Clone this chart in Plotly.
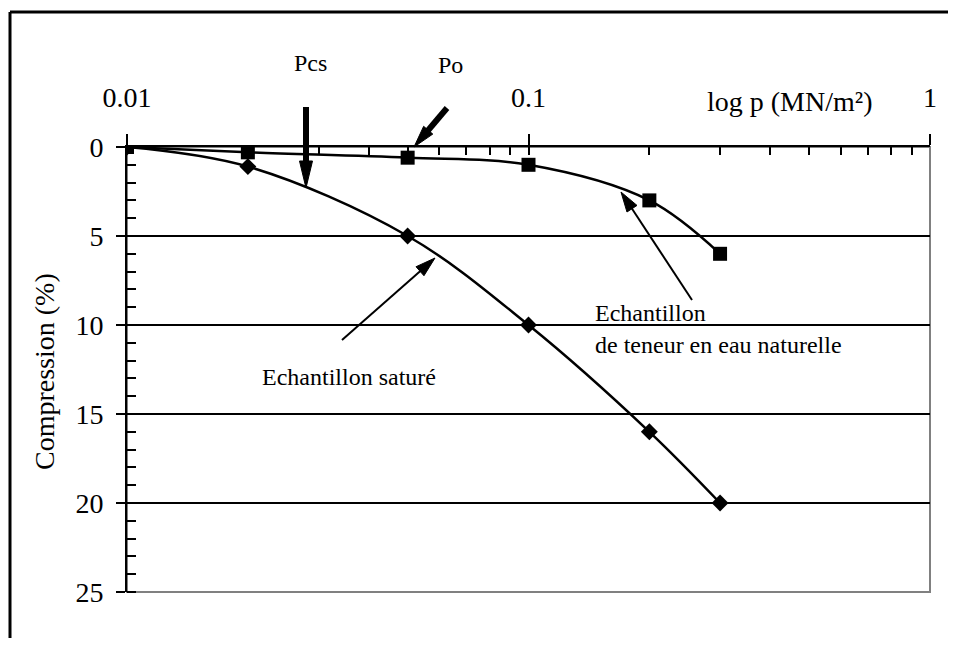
import math
import plotly.graph_objects as go

# ---------------- data ----------------
pressure = [0.01, 0.02, 0.05, 0.1, 0.2, 0.3]          # p (MN/m²)
natural = [0, 0.3, 0.6, 1.0, 3.0, 6.0]                # Echantillon de teneur en eau naturelle
saturated = [0, 1.1, 5, 10, 16, 20]                   # Echantillon saturé
x_ticks = [0.01, 0.1, 1]
x_ticktext = ["0.01", "0.1", "1"]
x_minor = [0.02, 0.03, 0.04, 0.05, 0.06, 0.07, 0.08, 0.09,
           0.2, 0.3, 0.4, 0.5, 0.6, 0.7, 0.8, 0.9]
y_ticks = [0, 5, 10, 15, 20, 25]
y_grid = [5, 10, 15, 20]

# ---------------- layout geometry (page pixels) ----------------
OFF = 8                      # default body margin of the html page
W, H = 940, 630              # keep the page smaller than the window (no scrollbars)
L, R, T, B = 127, 930, 147, 592
FONT = "Liberation Serif, Times New Roman, serif"


def px(x):
    return (x - L) / (R - L)


def py(y):
    return (B - y) / (B - T)


def arrow(x0, y0, x1, y1, w, hl, hw):
    dx, dy = x1 - x0, y1 - y0
    d = math.hypot(dx, dy)
    ux, uy = dx / d, dy / d
    bx, by = x1 - ux * hl, y1 - uy * hl
    nx, ny = -uy, ux
    shaft = dict(type="line", xref="paper", yref="paper",
                 x0=px(x0), y0=py(y0), x1=px(bx + ux * 2), y1=py(by + uy * 2),
                 line=dict(color="black", width=w))
    pts = [(x1, y1), (bx + nx * hw / 2, by + ny * hw / 2), (bx - nx * hw / 2, by - ny * hw / 2)]
    path = "M " + " L ".join(f"{px(a):.5f},{py(b):.5f}" for a, b in pts) + " Z"
    head = dict(type="path", xref="paper", yref="paper", path=path,
                fillcolor="black", line=dict(color="black", width=1))
    return [shaft, head]


fig = go.Figure()

fig.add_trace(go.Scatter(
    x=pressure, y=saturated, mode="lines+markers", name="Echantillon saturé",
    line=dict(shape="spline", smoothing=1, color="black", width=2.5),
    marker=dict(symbol="diamond", size=13, color="black"),
    showlegend=False))
fig.add_trace(go.Scatter(
    x=pressure, y=natural, mode="lines+markers", name="Echantillon de teneur en eau naturelle",
    line=dict(shape="spline", smoothing=1, color="black", width=2.5),
    marker=dict(symbol="square", size=14, color="black"),
    showlegend=False))
# helper trace so the overlay axes (inside ticks + grid) get drawn
fig.add_trace(go.Scatter(x=[x_ticks[0]], y=[y_ticks[0]], xaxis="x2", yaxis="y2",
                         mode="markers", marker=dict(opacity=0), hoverinfo="skip",
                         showlegend=False))

shapes = []
# plot-area border (grey right/bottom)
shapes.append(dict(type="rect", xref="paper", yref="paper", x0=0, y0=0, x1=1, y1=1,
                   line=dict(color="#808080", width=2), layer="below"))
# outer frame (only top and left edges are inside the picture)
shapes.append(dict(type="line", xref="paper", yref="paper",
                   x0=px(10), y0=py(12), x1=px(OFF + W), y1=py(12),
                   line=dict(color="black", width=3), layer="below"))
shapes.append(dict(type="line", xref="paper", yref="paper",
                   x0=px(10), y0=py(12), x1=px(10), y1=py(OFF + H),
                   line=dict(color="black", width=3), layer="below"))
shapes += arrow(306, 107, 306, 188, 6, 27, 13)     # Pcs
shapes += arrow(447, 108, 414, 147, 6, 22, 12)     # Po
shapes += arrow(342, 340, 435, 258, 2, 20, 12)     # saturé
shapes += arrow(692, 300, 621, 192, 2, 20, 12)     # naturelle

annotations = [
    dict(text="Pcs", x=px(310), y=py(63), font=dict(size=24)),
    dict(text="Po", x=px(450), y=py(65), font=dict(size=24)),
    dict(text="Echantillon saturé", x=px(349), y=py(377), font=dict(size=24)),
    dict(text="Echantillon", x=px(593), y=py(313), xanchor="left", font=dict(size=24)),
    dict(text="de teneur en eau naturelle", x=px(593), y=py(345), xanchor="left",
         font=dict(size=24)),
    dict(text="log p (MN/m²)", x=px(790), y=py(102), font=dict(size=28)),
    dict(text="Compression (%)", x=px(44), y=py(372), textangle=-90, font=dict(size=28)),
]
for a in annotations:
    a.update(xref="paper", yref="paper", showarrow=False)
    if "xanchor" not in a:
        a["xanchor"] = "center"
    a["yanchor"] = "middle"
    a["font"].update(family=FONT, color="black")

fig.update_layout(
    width=W, height=H,
    margin=dict(l=L - OFF, r=W - (R - OFF), t=T - OFF, b=H - (B - OFF), pad=0),
    paper_bgcolor="white", plot_bgcolor="white",
    font=dict(family=FONT, color="black", size=28),
    xaxis=dict(type="log", range=[-2, 0], side="top", anchor="y",
               tickmode="array", tickvals=x_ticks, ticktext=x_ticktext,
               ticks="outside", ticklen=11, tickwidth=2, tickcolor="black",
               ticklabelstandoff=16,
               tickfont=dict(size=28, family=FONT, color="black"),
               showline=True, linecolor="black", linewidth=2,
               showgrid=False, zeroline=False,
               minor=dict(tickmode="array", tickvals=x_minor, ticks="inside",
                          ticklen=8, tickwidth=2, tickcolor="black", showgrid=False)),
    yaxis=dict(range=[25, 0], anchor="x",
               tickmode="array", tickvals=y_ticks,
               ticks="outside", ticklen=9, tickwidth=2, tickcolor="black",
               ticklabelstandoff=7,
               tickfont=dict(size=28, family=FONT, color="black"),
               showline=True, linecolor="black", linewidth=2,
               showgrid=False, zeroline=False,
               minor=dict(dtick=1, tick0=0, ticks="inside", ticklen=9, tickwidth=2,
                          tickcolor="black", showgrid=False)),
    xaxis2=dict(type="log", range=[-2, 0], overlaying="x", side="top", anchor="y2",
                tickmode="array", tickvals=x_ticks, ticks="inside", ticklen=8,
                tickwidth=2, tickcolor="black", showticklabels=False,
                showline=False, showgrid=False, zeroline=False),
    yaxis2=dict(range=[25, 0], overlaying="y", side="left", anchor="x2",
                tickmode="array", tickvals=y_grid, ticks="inside", ticklen=9,
                tickwidth=2, tickcolor="black", showticklabels=False,
                showline=False, showgrid=True, gridcolor="black", gridwidth=2,
                zeroline=False),
    shapes=shapes,
    annotations=annotations,
)

fig.write_html("out.html")
